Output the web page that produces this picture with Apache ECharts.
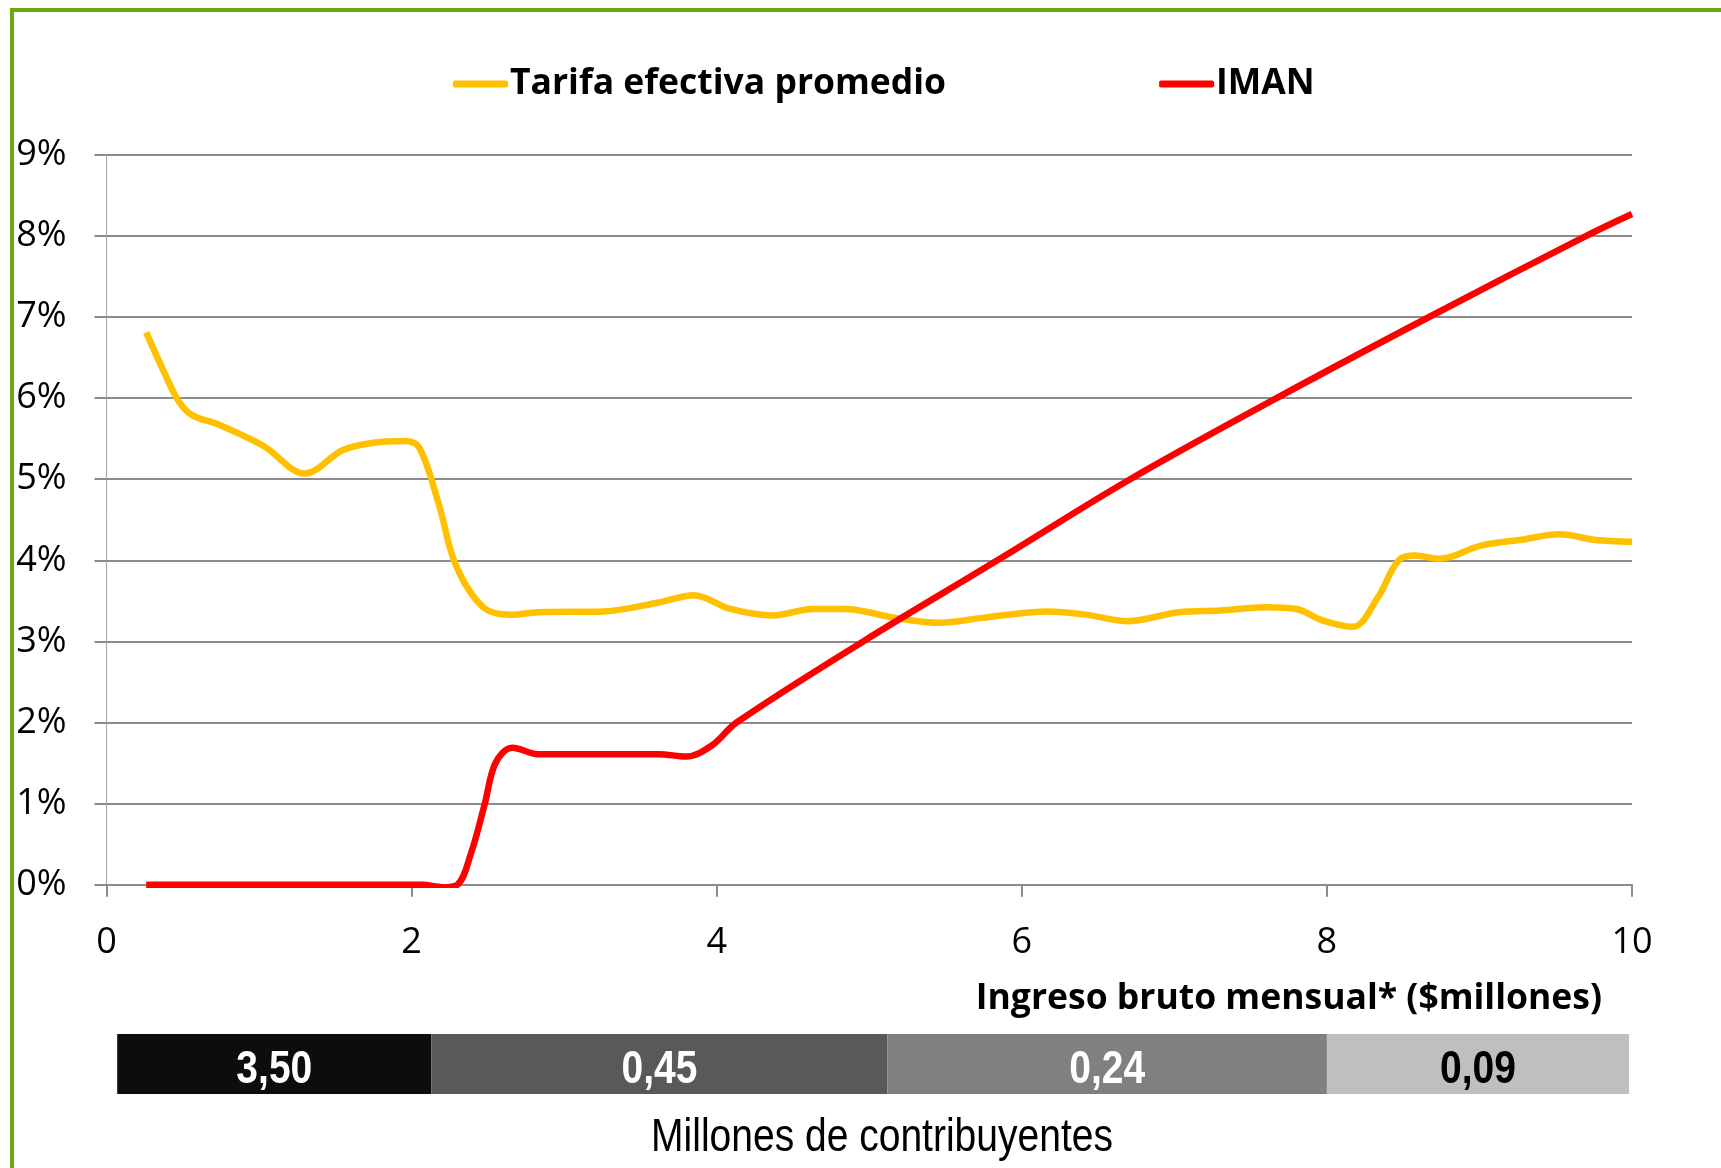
<!DOCTYPE html>
<html>
<head>
<meta charset="utf-8">
<script src="https://cdn.jsdelivr.net/npm/echarts@6/dist/echarts.min.js"></script>
<style>
  html, body { margin: 0; padding: 0; background: #fff; }
  #frame { position: absolute; left: 10px; top: 8px; width: 1711px; height: 1160px;
    border-left: 4px solid #6ea70b; border-top: 4px solid #6ea70b; box-sizing: border-box; pointer-events: none; }
  #chart { width: 1721px; height: 1168px; }
</style>
</head>
<body>
<div id="chart"></div>
<div id="frame"></div>
<script>
// Tarifa efectiva promedio (%), x in $millones
const tarifaX = [0.26, 0.38, 0.47, 0.56, 0.74, 1.03, 1.30, 1.55, 1.75, 1.95, 2.05, 2.18, 2.29, 2.47, 2.65, 2.83, 3.26, 3.62, 3.85, 4.09, 4.37, 4.63, 4.84, 5.17, 5.46, 5.74, 6.17, 6.42, 6.69, 7.03, 7.30, 7.60, 7.80, 7.97, 8.17, 8.33, 8.47, 8.58, 8.74, 9.01, 9.26, 9.53, 9.76, 10.0]
const tarifaY = [6.81, 6.31, 5.97, 5.79, 5.67, 5.41, 5.07, 5.36, 5.45, 5.47, 5.39, 4.68, 3.94, 3.42, 3.33, 3.36, 3.37, 3.48, 3.57, 3.40, 3.32, 3.40, 3.40, 3.29, 3.23, 3.29, 3.37, 3.33, 3.25, 3.36, 3.38, 3.42, 3.40, 3.26, 3.18, 3.53, 4.00, 4.06, 4.02, 4.18, 4.25, 4.32, 4.25, 4.23]

// IMAN (%)
const imanX = [0.26, 1.0, 1.8, 2.07, 2.20, 2.30, 2.39, 2.48, 2.55, 2.66, 2.83, 3.3, 3.62, 3.80, 3.97, 4.13, 4.96, 5.84, 6.71, 7.67, 8.67, 9.70, 10.0]
const imanY = [0, 0, 0, 0, -0.03, 0, 0.39, 1.00, 1.50, 1.69, 1.61, 1.61, 1.61, 1.58, 1.72, 2.00, 3.00, 4.00, 5.00, 6.00, 7.00, 8.00, 8.27]

// Millones de contribuyentes por tramo de ingreso
const bandEdges = [0.07, 2.13, 5.12, 8.0, 9.98]
const bandLabels = ['3,50', '0,45', '0,24', '0,09']
const bandColors = ['#0d0d0d', '#595959', '#808080', '#bfbfbf']
const bandTextColors = ['#fff', '#fff', '#fff', '#000']

const yTicks = [0, 1, 2, 3, 4, 5, 6, 7, 8, 9]

const zip = (xs, ys) => xs.map((x, i) => [x, ys[i]])

const chart = echarts.init(document.getElementById('chart'))

const gridLeft = 106.5
const gridRight = 89
const gray = '#8c8c8c'
const narrow = 0.83 // squeeze Liberation Sans to look like Arial Narrow

const bandData = bandLabels.map((lab, i) => [bandEdges[i], bandEdges[i + 1], i])

chart.setOption({
  animation: false,
  backgroundColor: '#fff',
  title: {
    text: 'Ingreso bruto mensual* ($millones)', right: 114, top: 976,
    textStyle: { fontSize: 35.5, fontWeight: 'bold', fontFamily: '"Open Sans", sans-serif', color: '#000' }
  },
  graphic: [{
    type: 'text', x: 882, y: 1138, scaleX: narrow,
    style: {
      text: 'Millones de contribuyentes', align: 'center', verticalAlign: 'middle',
      fontSize: 47, fontFamily: '"Liberation Sans", Arial, sans-serif', fill: '#000'
    }
  }],
  legend: {
    data: ['Tarifa efectiva promedio', 'IMAN'],
    top: 61, left: 448,
    itemWidth: 55, itemHeight: 7, itemGap: 213,
    icon: 'roundRect',
    textStyle: { fontSize: 35.5, fontWeight: 'bold', fontFamily: '"Open Sans", sans-serif', color: '#000', padding: [0, 0, 0, -3] }
  },
  grid: [
    { left: gridLeft, right: gridRight, top: 154.8, bottom: 283.3 },
    { left: gridLeft, right: gridRight, top: 1034, height: 60 }
  ],
  xAxis: [
    {
      type: 'value', min: 0, max: 10, interval: 2,
      axisLine: { show: true, lineStyle: { color: gray, width: 2 } },
      axisTick: { show: true, length: 12, lineStyle: { color: gray, width: 2 } },
      splitLine: { show: false },
      axisLabel: { fontSize: 36, color: '#000', margin: 40, fontFamily: '"Open Sans", sans-serif' }
    },
    { type: 'value', gridIndex: 1, min: 0, max: 10, show: false }
  ],
  yAxis: [
    {
      type: 'value', min: yTicks[0], max: yTicks[yTicks.length - 1], interval: 1,
      axisLine: { show: true, lineStyle: { color: '#a6a6a6', width: 1 } },
      axisTick: { show: true, length: 12, lineStyle: { color: gray, width: 2 } },
      splitLine: { show: true, lineStyle: { color: gray, width: 2 } },
      axisLabel: { formatter: '{value}%', fontSize: 36, color: '#000', margin: 40, fontFamily: '"Open Sans", sans-serif' }
    },
    { type: 'category', gridIndex: 1, data: ['band'], show: false }
  ],
  series: [
    {
      name: 'Tarifa efectiva promedio', type: 'line', smooth: 0.35, showSymbol: false,
      data: zip(tarifaX, tarifaY),
      lineStyle: { color: '#ffc000', width: 6.5 }, itemStyle: { color: '#ffc000' }
    },
    {
      name: 'IMAN', type: 'line', smooth: 0.35, showSymbol: false,
      data: zip(imanX, imanY),
      lineStyle: { color: '#ff0000', width: 6.5 }, itemStyle: { color: '#ff0000' }
    },
    {
      type: 'custom', xAxisIndex: 1, yAxisIndex: 1, silent: true,
      data: bandData,
      encode: { x: [0, 1] },
      renderItem: (params, api) => {
        const i = api.value(2)
        const p0 = api.coord([api.value(0), 0])
        const p1 = api.coord([api.value(1), 0])
        const h = api.size([0, 1])[1]
        return {
          type: 'group',
          children: [
            { type: 'rect', shape: { x: p0[0], y: p0[1] - h / 2, width: p1[0] - p0[0], height: h },
              style: { fill: bandColors[i] } },
            { type: 'text', x: (p0[0] + p1[0]) / 2, y: p0[1] + 6, scaleX: narrow,
              style: { text: bandLabels[i], align: 'center', verticalAlign: 'middle', fill: bandTextColors[i],
                fontSize: 47, fontWeight: 'bold', fontFamily: '"Liberation Sans", Arial, sans-serif' } }
          ]
        }
      }
    }
  ]
})
</script>
</body>
</html>
